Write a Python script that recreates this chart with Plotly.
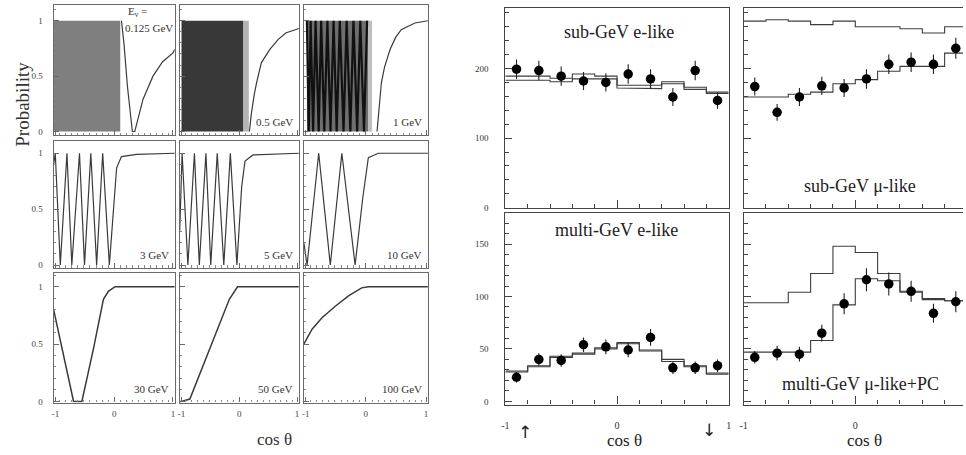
import numpy as np
import plotly.graph_objects as go

W, H = 966, 455
FONT = "Liberation Serif"
INK = "#1a1a1a"

# ---------------- Left block: oscillation probability vs cos(theta) ----------------
energy_labels = ["0.125 GeV", "0.5 GeV", "1 GeV", "3 GeV", "5 GeV", "10 GeV", "30 GeV", "50 GeV", "100 GeV"]
prob_ticks = [0, 0.5, 1]
prob_ticktext = ["0", "0.5", "1"]
cos_ticks = [-0.97, 0, 0.97]
cos_ticktext = ["-1", "0", "1"]
cos_ticks_right = [-1, 0, 1]

# averaged (fast oscillation) regions  [cos start, cos end]
band_0125 = [-1.0, 0.10]
band_05 = [-0.97, 0.07]
band_05_edge = [0.07, 0.16]
band_1 = [-0.95, 0.04]
band_1_edge = [0.04, 0.10]

zig_1_x = [-0.95, -0.92, -0.89, -0.85, -0.81, -0.76, -0.72, -0.67, -0.62, -0.57, -0.52,
           -0.47, -0.42, -0.36, -0.31, -0.25, -0.20, -0.14, -0.09, -0.03, 0.02]
zig_1_y = [1, 0, 1, 0, 1, 0, 1, 0, 1, 0, 1, 0, 1, 0, 1, 0, 1, 0, 1, 0, 1]

p0125_x = [0.12, 0.16, 0.22, 0.30, 0.34, 0.475, 0.64, 0.80, 0.97, 1.0]
p0125_y = [1.0, 0.80, 0.40, 0.0, 0.0, 0.29, 0.50, 0.63, 0.71, 0.74]

p05_x = [0.17, 0.20, 0.25, 0.29, 0.37, 0.51, 0.65, 0.78, 1.0]
p05_y = [0.0, 0.15, 0.33, 0.44, 0.62, 0.74, 0.83, 0.89, 0.93]

p1_x = [0.18, 0.20, 0.25, 0.30, 0.39, 0.48, 0.57, 0.79, 1.0]
p1_y = [0.0, 0.15, 0.44, 0.58, 0.74, 0.85, 0.92, 0.98, 1.0]

p3_x = [-1.0, -0.973, -0.89, -0.78, -0.70, -0.573, -0.49, -0.386, -0.29, -0.19, -0.08,
        -0.02, 0.04, 0.12, 0.37, 1.0]
p3_y = [0.9, 1.0, 0.0, 1.0, 0.0, 1.0, 0.0, 1.0, 0.0, 1.0, 0.0, 0.45, 0.87, 0.97, 0.99, 1.0]

p5_x = [-1.0, -0.96, -0.863, -0.753, -0.671, -0.56, -0.479, -0.37, -0.26, -0.15, -0.04,
        0.04, 0.096, 0.23, 1.0]
p5_y = [0.3, 1.0, 0.0, 1.0, 0.0, 1.0, 0.0, 1.0, 0.0, 1.0, 0.0, 0.70, 0.93, 0.985, 1.0]

p10_x = [-1.0, -0.947, -0.76, -0.573, -0.387, -0.173, -0.05, 0.04, 0.2, 1.0]
p10_y = [0.2, 0.0, 1.0, 0.0, 1.0, 0.0, 0.6, 0.96, 1.0, 1.0]

p30_x = [-1.0, -0.671, -0.534, -0.342, -0.178, -0.096, 0.014, 1.0]
p30_y = [0.80, 0.0, 0.0, 0.46, 0.89, 0.96, 1.0, 1.0]

p50_x = [-1.0, -0.97, -0.83, -0.67, -0.50, -0.33, -0.167, -0.03, 1.0]
p50_y = [0.0, 0.0, 0.02, 0.23, 0.46, 0.69, 0.89, 1.0, 1.0]

p100_x = [-1.0, -0.867, -0.707, -0.493, -0.28, -0.067, 0.04, 1.0]
p100_y = [0.50, 0.63, 0.73, 0.83, 0.92, 0.99, 1.0, 1.0]

# ---------------- Right block: zenith angle distributions ----------------
bin_edges = [-1.0, -0.8, -0.6, -0.4, -0.2, 0.0, 0.2, 0.4, 0.6, 0.8, 1.0]
panel_titles = ["sub-GeV e-like", "sub-GeV \u03bc-like", "multi-GeV e-like", "multi-GeV \u03bc-like+PC"]

subgev_e_data = [199, 197, 189, 182, 180, 192, 185, 159, 197, 154]
subgev_e_err = [14, 14, 14, 13, 13, 14, 14, 13, 14, 12]
subgev_e_mc_a = [189, 189, 186, 192, 189, 176, 176, 181, 173, 166]
subgev_e_mc_b = [183, 183, 181, 185, 185, 172, 171, 178, 170, 164]

subgev_mu_data = [174, 137, 159, 175, 172, 185, 206, 209, 206, 229]
subgev_mu_err = [13, 12, 13, 13, 13, 14, 14, 14, 14, 15]
subgev_mu_osc = [159, 159, 163, 166, 178, 184, 196, 203, 203, 222]
subgev_mu_noosc = [268, 270, 268, 263, 268, 260, 260, 257, 251, 260]

multigev_e_data = [23, 40, 39, 54, 52, 49, 61, 32, 32, 34]
multigev_e_err = [5, 6, 6, 7, 7, 7, 8, 6, 6, 6]
multigev_e_mc_a = [29, 34, 43, 46, 51, 56, 49, 40, 34, 27]
multigev_e_mc_b = [28, 33, 42, 45, 50, 55, 48, 38, 33, 26]

multigev_mu_data = [42, 46, 45, 65, 93, 116, 112, 105, 84, 95]
multigev_mu_err = [6, 7, 7, 8, 10, 11, 11, 10, 9, 10]
multigev_mu_osc = [47, 47, 47, 58, 92, 117, 115, 105, 98, 96]
multigev_mu_noosc = [94, 94, 104, 122, 148, 142, 122, 104, 97, 96]

# ---------------- helpers ----------------
def xdom(a, b):
    return [a / W, min(b / W, 1.0)]

def ydom(t, b):
    return [1 - b / H, 1 - t / H]

def px(x):
    return x / W

def py(y):
    return 1 - y / H

edges = np.array(bin_edges)
centers = (edges[:-1] + edges[1:]) / 2
step_x = np.repeat(edges, 2)[1:-1]

def step_y(v):
    return np.repeat(np.array(v, dtype=float), 2)

fig = go.Figure()
layout = dict(width=W, height=H, margin=dict(l=0, r=0, t=0, b=0),
              paper_bgcolor="white", plot_bgcolor="white", showlegend=False,
              font=dict(family=FONT, color=INK, size=10))
annotations = []

def note(text, x, y, size, color="#333", family=FONT, **kw):
    d = dict(text=text, x=px(x), y=py(y), xref="paper", yref="paper", showarrow=False,
             xanchor="center", yanchor="middle", font=dict(size=size, family=family, color=color))
    d.update(kw)
    annotations.append(d)

def ax_name(k, kind):
    return kind + ("axis" if k == 1 else "axis%d" % k)

def tr_ref(k, kind):
    return kind if k == 1 else "%s%d" % (kind, k)

# ---- left panels layout ----
left_cols = [(50, 172), (177, 297), (302, 427)]
left_rows = [(5, 137), (143, 271), (276, 407)]
left_yrng = [[-0.036, 1.143], [-0.027, 1.106], [-0.01, 1.12]]
LCOL = "#6a6a6a"

for i in range(9):
    r, c = divmod(i, 3)
    k = i + 1
    layout[ax_name(k, "x")] = dict(
        domain=xdom(*left_cols[c]), range=[-1, 1], anchor=tr_ref(k, "y"),
        showline=True, mirror=True, linecolor=LCOL, linewidth=1.3,
        ticks="inside", tickvals=cos_ticks, ticktext=cos_ticktext, ticklen=5,
        tickcolor=LCOL, minor=dict(ticks="inside", ticklen=2.5, dtick=0.1, tick0=0, tickcolor="#888"),
        showgrid=False, zeroline=False, showticklabels=(r == 2),
        tickfont=dict(size=9, family=FONT, color="#444"), ticklabelstandoff=3)
    layout[ax_name(k, "y")] = dict(
        domain=ydom(*left_rows[r]), range=left_yrng[r], anchor=tr_ref(k, "x"),
        showline=True, mirror=True, linecolor=LCOL, linewidth=1.3,
        ticks="inside", tickvals=prob_ticks, ticktext=prob_ticktext, ticklen=5,
        tickcolor=LCOL, minor=dict(ticks="inside", ticklen=2.5, dtick=0.1, tick0=0, tickcolor="#888"),
        showgrid=False, zeroline=False, showticklabels=(c == 0),
        tickfont=dict(size=9, family=FONT, color="#444"), ticklabelstandoff=8)

def band(k, rng, color):
    fig.add_trace(go.Scatter(x=rng, y=[1, 1], mode="lines", line=dict(width=0, color=color),
                             fill="tozeroy", fillcolor=color,
                             xaxis=tr_ref(k, "x"), yaxis=tr_ref(k, "y"), hoverinfo="skip"))

def curve(k, xs, ys, color="#3a3a3a", width=1.2):
    fig.add_trace(go.Scatter(x=xs, y=ys, mode="lines", line=dict(color=color, width=width),
                             xaxis=tr_ref(k, "x"), yaxis=tr_ref(k, "y"), hoverinfo="skip"))

band(1, band_0125, "#7f7f7f")
curve(1, p0125_x, p0125_y)
band(2, band_05, "#383838")
band(2, band_05_edge, "#b4b4b4")
curve(2, p05_x, p05_y)
band(3, band_1, "#6e6e6e")
band(3, band_1_edge, "#bdbdbd")
curve(3, zig_1_x, zig_1_y, color="#111111", width=2.2)
curve(3, p1_x, p1_y)
curve(4, p3_x, p3_y)
curve(5, p5_x, p5_y)
curve(6, p10_x, p10_y)
curve(7, p30_x, p30_y, width=1.5)
curve(8, p50_x, p50_y, width=1.5)
curve(9, p100_x, p100_y, width=1.5)

# energy labels
for i in range(1, 9):
    annotations.append(dict(text=energy_labels[i], xref=tr_ref(i + 1, "x") + " domain",
                            yref=tr_ref(i + 1, "y") + " domain", x=0.97, y=0.04,
                            xanchor="right", yanchor="bottom", showarrow=False,
                            font=dict(size=11, family=FONT, color="#333")))
note("E<sub>\u03bd</sub> =", 134, 12, 11)
note(energy_labels[0], 146, 28, 11, bgcolor="white", borderpad=0)
note("Probability", 19, 105, 19, textangle=-90)
note("cos \u03b8", 272, 444, 17)

# ---- right panels ----
right_cols = [(505, 730), (745, 970)]
right_rows = [(8, 210), (215, 409)]
right_yrng = [[0, 287], [-3, 180]]
right_major = [100, 50]
right_minor = [20, 10]
RCOL = "#444444"
right_xrng = [[-1, 1], [-1, 1 - 4 / 112.5]]

for j in range(4):
    r, c = divmod(j, 2)
    k = 10 + j
    layout[ax_name(k, "x")] = dict(
        domain=xdom(*right_cols[c]), range=right_xrng[c], anchor=tr_ref(k, "y"),
        showline=True, mirror=True, linecolor=RCOL, linewidth=1.2,
        ticks="inside", tickvals=cos_ticks_right, ticktext=cos_ticktext, ticklen=8, tickcolor=RCOL,
        minor=dict(ticks="inside", ticklen=4, dtick=0.2, tick0=0, tickcolor=RCOL),
        showgrid=False, zeroline=False, showticklabels=(r == 1),
        tickfont=dict(size=10, family=FONT, color="#333"), ticklabelstandoff=11)
    layout[ax_name(k, "y")] = dict(
        domain=ydom(*right_rows[r]), range=right_yrng[r], anchor=tr_ref(k, "x"),
        showline=True, mirror=(c == 0), linecolor=RCOL, linewidth=1.2,
        ticks="inside", dtick=right_major[r], tick0=0, ticklen=7, tickcolor=RCOL,
        minor=dict(ticks="inside", ticklen=4, dtick=right_minor[r], tick0=0, tickcolor=RCOL),
        showgrid=False, zeroline=False, showticklabels=(c == 0),
        tickfont=dict(size=9, family=FONT, color="#333"), ticklabelstandoff=14)

def hist(k, vals):
    fig.add_trace(go.Scatter(x=step_x, y=step_y(vals), mode="lines",
                             line=dict(color="#3c3c3c", width=1.1),
                             xaxis=tr_ref(k, "x"), yaxis=tr_ref(k, "y"), hoverinfo="skip"))

def points(k, vals, errs):
    fig.add_trace(go.Scatter(x=centers, y=vals, mode="markers",
                             marker=dict(color="black", size=9.5),
                             error_y=dict(type="data", array=errs, thickness=1.1, width=0, color="#222"),
                             xaxis=tr_ref(k, "x"), yaxis=tr_ref(k, "y"), hoverinfo="skip"))

hist(10, subgev_e_mc_a)
hist(10, subgev_e_mc_b)
points(10, subgev_e_data, subgev_e_err)
hist(11, subgev_mu_noosc)
hist(11, subgev_mu_osc)
points(11, subgev_mu_data, subgev_mu_err)
hist(12, multigev_e_mc_a)
hist(12, multigev_e_mc_b)
points(12, multigev_e_data, multigev_e_err)
hist(13, multigev_mu_noosc)
hist(13, multigev_mu_osc)
points(13, multigev_mu_data, multigev_mu_err)

title_pos = [(619, 32), (862, 188), (617, 233), (863, 388)]
for j in range(4):
    note(panel_titles[j], title_pos[j][0], title_pos[j][1], 18, color="#222")

note("cos \u03b8", 625, 445, 17, color="#222")
note("cos \u03b8", 867, 445, 17, color="#222")

# direction arrows under the multi-GeV e-like panel
note("\u2191", 525, 437, 17, color="#222", family="DejaVu Sans")
note("\u2193", 710, 435, 17, color="#222", family="DejaVu Sans")

layout["annotations"] = annotations
fig.update_layout(**layout)
fig.write_html("out.html", config={"displayModeBar": False},
               post_script="document.body.style.margin='0px';")
